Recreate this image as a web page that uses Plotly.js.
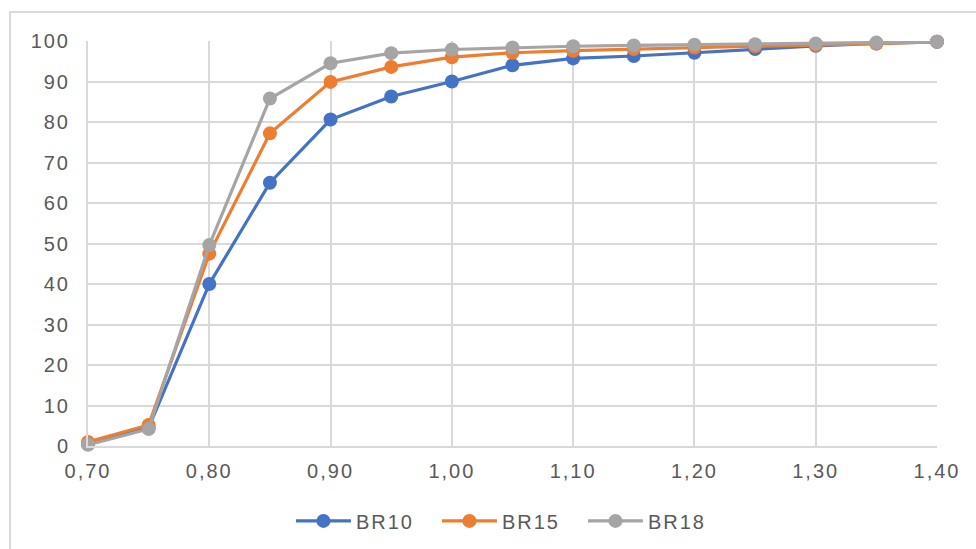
<!DOCTYPE html>
<html>
<head>
<meta charset="utf-8">
<script src="https://cdn.plot.ly/plotly-3.0.1.min.js"></script>
<style>
  html, body { margin: 0; padding: 0; background: #ffffff; }
  #frame {
    position: absolute; left: 9px; top: 11px; width: 1000px; height: 600px;
    border: 2px solid #d9d9d9; box-sizing: border-box; pointer-events: none;
  }
  #chart { position: absolute; left: 0; top: 0; width: 976px; height: 549px; }
  /* wide, airy label lettering */
  #chart svg text { letter-spacing: 2px; }
</style>
</head>
<body>
<div id="chart"></div>
<div id="frame"></div>
<script>
// Ratio values on the x axis
const ratios = [0.70, 0.75, 0.80, 0.85, 0.90, 0.95, 1.00, 1.05, 1.10, 1.15, 1.20, 1.25, 1.30, 1.35, 1.40];

// Cumulative percentage for each series
const br10 = [0.5, 4.5, 40.0, 65.0, 80.6, 86.3, 90.0, 94.0, 95.7, 96.3, 97.1, 98.0, 98.8, 99.4, 99.8];
const br15 = [1.0, 5.2, 47.5, 77.2, 89.9, 93.6, 96.0, 97.1, 97.6, 98.0, 98.4, 98.7, 99.0, 99.4, 99.8];
const br18 = [0.3, 4.2, 49.6, 85.8, 94.5, 97.0, 97.9, 98.4, 98.7, 98.9, 99.1, 99.2, 99.4, 99.6, 99.8];

const seriesNames = ['BR10', 'BR15', 'BR18'];
const seriesColors = ['#4472C4', '#ED7D31', '#A5A5A5'];
const seriesValues = [br10, br15, br18];

const traces = seriesValues.map((vals, i) => ({
  type: 'scatter',
  mode: 'lines+markers',
  name: seriesNames[i],
  x: ratios,
  y: vals,
  line: { color: seriesColors[i], width: 3.2 },
  marker: { color: seriesColors[i], size: 14 },
  cliponaxis: false
}));

const gridColor = '#d9d9d9';
const tickFont = { family: 'Liberation Sans, Arial, sans-serif', size: 20, color: '#595959' };

const layout = {
  width: 976,
  height: 549,
  margin: { l: 88, r: 39, t: 41, b: 103, autoexpand: false },
  paper_bgcolor: '#ffffff',
  plot_bgcolor: '#ffffff',
  separators: ',.',
  font: tickFont,
  showlegend: true,
  legend: {
    orientation: 'h',
    x: 0.497, xanchor: 'center',
    y: -0.185, yanchor: 'middle',
    font: tickFont,
    itemwidth: 55,
    entrywidth: 76,
    entrywidthmode: 'pixels',
    traceorder: 'normal'
  },
  xaxis: {
    range: [0.70, 1.40],
    tickvals: [0.70, 0.80, 0.90, 1.00, 1.10, 1.20, 1.30, 1.40],
    tickformat: '.2f',
    showgrid: true,
    gridcolor: gridColor,
    gridwidth: 2,
    zeroline: false,
    showline: true,
    linecolor: gridColor,
    linewidth: 2,
    ticks: '',
    ticklabelstandoff: 6,
    tickfont: tickFont,
    automargin: false
  },
  yaxis: {
    range: [0, 100],
    dtick: 10,
    tick0: 0,
    showgrid: true,
    gridcolor: gridColor,
    gridwidth: 2,
    zeroline: false,
    showline: true,
    linecolor: gridColor,
    linewidth: 2,
    ticks: '',
    ticklabelstandoff: 12,
    tickfont: tickFont,
    automargin: false
  }
};

Plotly.newPlot('chart', traces, layout, { displayModeBar: false, staticPlot: true });
</script>
</body>
</html>
